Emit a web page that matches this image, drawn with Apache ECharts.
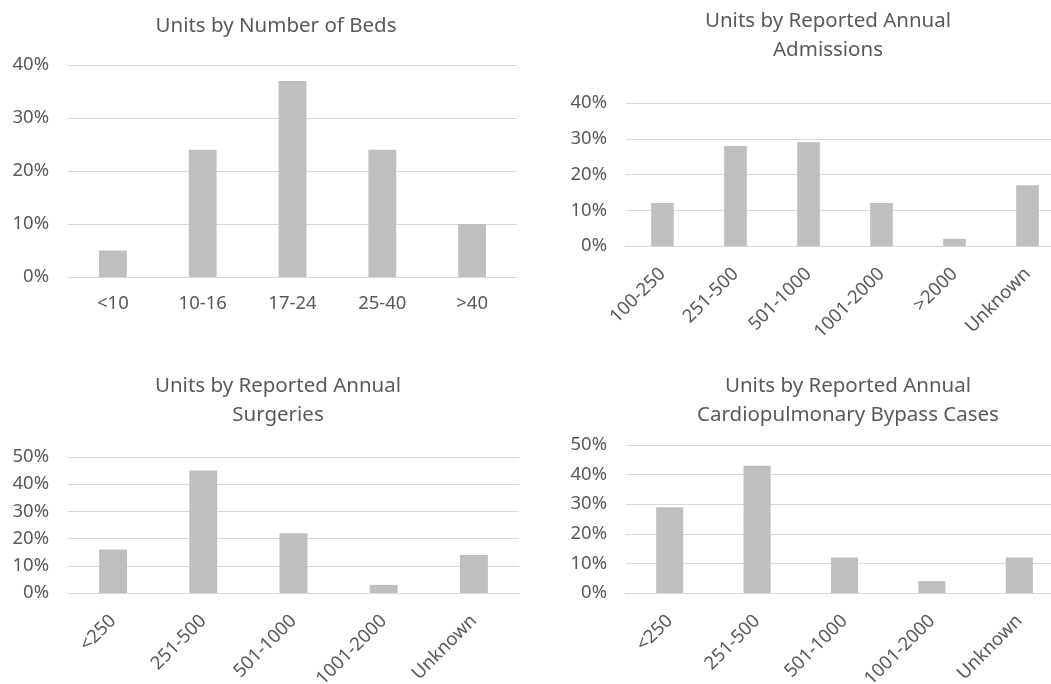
<!DOCTYPE html>
<html>
<head>
<meta charset="utf-8">
<script src="https://cdn.jsdelivr.net/npm/echarts@6/dist/echarts.min.js"></script>
<style>
  html, body { margin: 0; padding: 0; background: #fff; }
  #chart { width: 1051px; height: 684px; }
</style>
</head>
<body>
<div id="chart"></div>
<script>
// data (percent of units)
var bedsCats = ['<10', '10-16', '17-24', '25-40', '>40'];
var bedsVals = [5, 24, 37, 24, 10];

var admitCats = ['100-250', '251-500', '501-1000', '1001-2000', '>2000', 'Unknown'];
var admitVals = [12, 28, 29, 12, 2, 17];

var surgCats = ['<250', '251-500', '501-1000', '1001-2000', 'Unknown'];
var surgVals = [16, 45, 22, 3, 14];

var bypassCats = ['<250', '251-500', '501-1000', '1001-2000', 'Unknown'];
var bypassVals = [29, 43, 12, 4, 12];

var titles = [
  'Units by Number of Beds',
  'Units by Reported Annual\nAdmissions',
  'Units by Reported Annual\nSurgeries',
  'Units by Reported Annual\nCardiopulmonary Bypass Cases'
];
var yMax = [40, 40, 50, 50];

var FONT = 'Noto Sans';
var TXT = '#595959';

var chart = echarts.init(document.getElementById('chart'));

function makeTitle(text, cx, top) {
  return {
    text: text,
    left: cx,
    top: top,
    textAlign: 'center',
    textStyle: { fontFamily: FONT, fontSize: 20.5, fontWeight: 'normal', color: TXT, lineHeight: 29 }
  };
}

function makeX(idx, cats, rotate) {
  return {
    type: 'category',
    gridIndex: idx,
    data: cats,
    axisLine: { lineStyle: { color: '#d9d9d9' } },
    axisTick: { show: false },
    axisLabel: { color: TXT, fontFamily: FONT, fontSize: 18.5, rotate: rotate, margin: rotate ? 25 : 17, interval: 0 }
  };
}

function makeY(idx, max) {
  return {
    type: 'value',
    gridIndex: idx,
    min: 0,
    max: max,
    interval: 10,
    axisLine: { show: false },
    axisTick: { show: false },
    splitLine: { lineStyle: { color: '#d9d9d9', width: 1 } },
    axisLabel: { color: TXT, fontFamily: FONT, fontSize: 18.5, margin: 19, formatter: '{value}%' }
  };
}

function makeBar(idx, vals) {
  return {
    type: 'bar',
    xAxisIndex: idx,
    yAxisIndex: idx,
    data: vals,
    barWidth: '31%',
    itemStyle: { color: '#bfbfbf' },
    silent: true
  };
}

var option = {
  animation: false,
  title: [
    makeTitle(titles[0], 271, 7),
    makeTitle(titles[1], 823, 2),
    makeTitle(titles[2], 273, 367),
    makeTitle(titles[3], 843, 367)
  ],
  grid: [
    { left: 68, top: 65, width: 449, height: 212, outerBoundsMode: 'none' },
    { left: 626, top: 103, width: 438, height: 143, outerBoundsMode: 'none' },
    { left: 68, top: 457, width: 451, height: 136, outerBoundsMode: 'none' },
    { left: 626, top: 445, width: 437, height: 148, outerBoundsMode: 'none' }
  ],
  xAxis: [
    makeX(0, bedsCats, 0),
    makeX(1, admitCats, 45),
    makeX(2, surgCats, 45),
    makeX(3, bypassCats, 45)
  ],
  yAxis: [
    makeY(0, yMax[0]),
    makeY(1, yMax[1]),
    makeY(2, yMax[2]),
    makeY(3, yMax[3])
  ],
  series: [
    makeBar(0, bedsVals),
    makeBar(1, admitVals),
    makeBar(2, surgVals),
    makeBar(3, bypassVals)
  ]
};

chart.setOption(option);
</script>
</body>
</html>
